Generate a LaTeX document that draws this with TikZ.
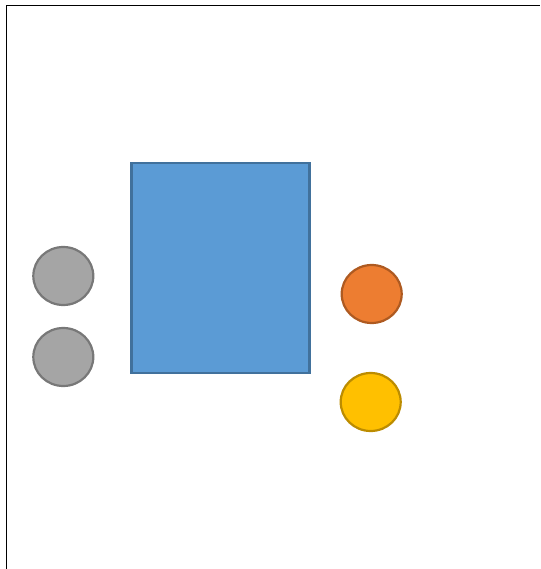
\documentclass[tikz,border=0pt]{standalone}
\usetikzlibrary{shapes.geometric}
\definecolor{bluefill}{HTML}{5B9BD5}
\definecolor{bluedraw}{HTML}{41719C}
\definecolor{grayfill}{HTML}{A5A5A5}
\definecolor{graydraw}{HTML}{787878}
\definecolor{orangefill}{HTML}{ED7D31}
\definecolor{orangedraw}{HTML}{AE5A21}
\definecolor{yellowfill}{HTML}{FFC000}
\definecolor{yellowdraw}{HTML}{BC8C00}
\tikzset{
  dot/.style={ellipse, inner sep=0pt, minimum width=60pt, minimum height=58pt, line width=2.2pt},
  box/.style={rectangle, inner sep=0pt, minimum width=178pt, minimum height=210pt, line width=2.2pt, fill=bluefill, draw=bluedraw},
}
\begin{document}
\begin{tikzpicture}[x=1pt,y=-1pt]
\useasboundingbox (0,0) rectangle (540,569);
\draw[line width=1pt] (6,569) -- (6,6) -- (540,6);
\node[box] (main) at (220.5,268) {};
\node[dot, fill=grayfill, draw=graydraw] (g1) at (63.3,276) {};
\node[dot, fill=grayfill, draw=graydraw] (g2) at (63.3,357) {};
\node[dot, fill=orangefill, draw=orangedraw] (o) at (371.7,294) {};
\node[dot, fill=yellowfill, draw=yellowdraw] (y) at (370.7,402) {};
\end{tikzpicture}
\end{document}
